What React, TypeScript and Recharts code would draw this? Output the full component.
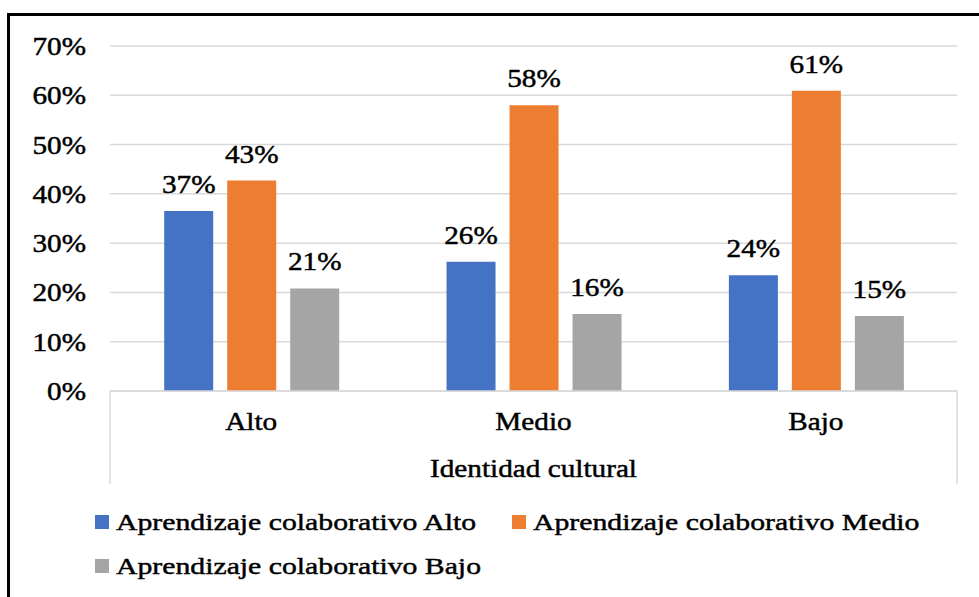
import React from 'react';
import { BarChart, Bar, XAxis, YAxis, CartesianGrid, Legend, LabelList, Label } from 'recharts';

const categories = ['Alto', 'Medio', 'Bajo'];
const seriesNames = [
  'Aprendizaje colaborativo Alto',
  'Aprendizaje colaborativo Medio',
  'Aprendizaje colaborativo Bajo',
];
const serieAlto = [36.5, 26.2, 23.5];
const serieMedio = [42.7, 58.0, 60.9];
const serieBajo = [20.8, 15.6, 15.2];
const yTicks = [0, 10, 20, 30, 40, 50, 60, 70];
const axisTitle = 'Identidad cultural';
const colors = ['#4472C4', '#ED7D31', '#A5A5A5'];

const data = categories.map((c, i) => ({
  name: c,
  alto: serieAlto[i],
  medio: serieMedio[i],
  bajo: serieBajo[i],
}));

const FONT = "'Liberation Serif', 'Times New Roman', serif";
const SX = 1.17;

function SText({ x, y, anchor = 'middle', size = 25, sx = SX, children }: any) {
  return (
    <text
      transform={`translate(${x},${y}) scale(${sx},1)`}
      textAnchor={anchor}
      fontFamily={FONT}
      fontSize={size}
      fill="#000"
      stroke="#000"
      strokeWidth={0.45}
    >
      {children}
    </text>
  );
}

const YTick = (props: any) => {
  const { x, y, payload } = props;
  return <SText x={x} y={y + 9} anchor="end">{`${payload.value}%`}</SText>;
};

const XTick = (props: any) => {
  const { x, y, payload } = props;
  return <SText x={x} y={y + 39}>{payload.value}</SText>;
};

const AxisDeco = (props: any) => {
  const vb = props.viewBox || {};
  const { x, y, width, height } = vb;
  return (
    <g>
      <line x1={x} y1={y} x2={x} y2={y + height} stroke="#d9d9d9" strokeWidth={1.5} />
      <line x1={x + width} y1={y} x2={x + width} y2={y + height} stroke="#d9d9d9" strokeWidth={1.5} />
      <SText x={x + width / 2} y={y + 86}>{axisTitle}</SText>
    </g>
  );
};

const ValueLabel = (props: any) => {
  const { x, y, width, value } = props;
  return <SText x={x + width / 2} y={y - 18}>{`${Math.round(value)}%`}</SText>;
};

const LegendContent = () => {
  const items = [
    { name: seriesNames[0], color: colors[0], x: 95, y: 0 },
    { name: seriesNames[1], color: colors[1], x: 512, y: 0 },
    { name: seriesNames[2], color: colors[2], x: 95, y: 44 },
  ];
  return (
    <svg width={979} height={90} style={{ display: 'block' }}>
      {items.map((it) => (
        <g key={it.name}>
          <rect x={it.x} y={it.y + 15} width={14} height={14} fill={it.color} />
          <SText x={it.x + 21} y={it.y + 30} anchor="start" size={24} sx={1.24}>
            {it.name}
          </SText>
        </g>
      ))}
    </svg>
  );
};

export default function App() {
  return (
    <div style={{ position: 'fixed', left: 0, top: 0, width: 979, height: 597, background: '#fff', overflow: 'hidden' }}>
      <div
        style={{
          position: 'absolute',
          left: 7,
          top: 13,
          width: 1000,
          height: 620,
          borderLeft: '3px solid #000',
          borderTop: '3px solid #000',
        }}
      />
      <div style={{ position: 'absolute', left: 0, top: 0 }}>
        <BarChart
          width={979}
          height={597}
          data={data}
          margin={{ top: 46, right: 22, left: 0, bottom: 113 }}
          barCategoryGap="19.2%"
          barGap={14}
        >
          <CartesianGrid vertical={false} stroke="#d9d9d9" strokeWidth={1.5} />
          <YAxis
            domain={[0, 70]}
            ticks={yTicks}
            interval={0}
            width={110}
            axisLine={false}
            tickLine={false}
            tickSize={0}
            tickMargin={24}
            tick={<YTick />}
          />
          <XAxis
            dataKey="name"
            height={93}
            axisLine={{ stroke: '#d9d9d9', strokeWidth: 1.5 }}
            tickLine={false}
            tickSize={0}
            tickMargin={0}
            tick={<XTick />}
          >
            <Label content={<AxisDeco />} />
          </XAxis>
          <Legend
            layout="horizontal"
            verticalAlign="middle"
            align="center"
            content={<LegendContent />}
            wrapperStyle={{ position: 'absolute', left: 0, top: 500, width: 979, height: 90 }}
          />
          <Bar dataKey="alto" name={seriesNames[0]} fill={colors[0]} isAnimationActive={false}>
            <LabelList dataKey="alto" content={<ValueLabel />} />
          </Bar>
          <Bar dataKey="medio" name={seriesNames[1]} fill={colors[1]} isAnimationActive={false}>
            <LabelList dataKey="medio" content={<ValueLabel />} />
          </Bar>
          <Bar dataKey="bajo" name={seriesNames[2]} fill={colors[2]} isAnimationActive={false}>
            <LabelList dataKey="bajo" content={<ValueLabel />} />
          </Bar>
        </BarChart>
      </div>
    </div>
  );
}
